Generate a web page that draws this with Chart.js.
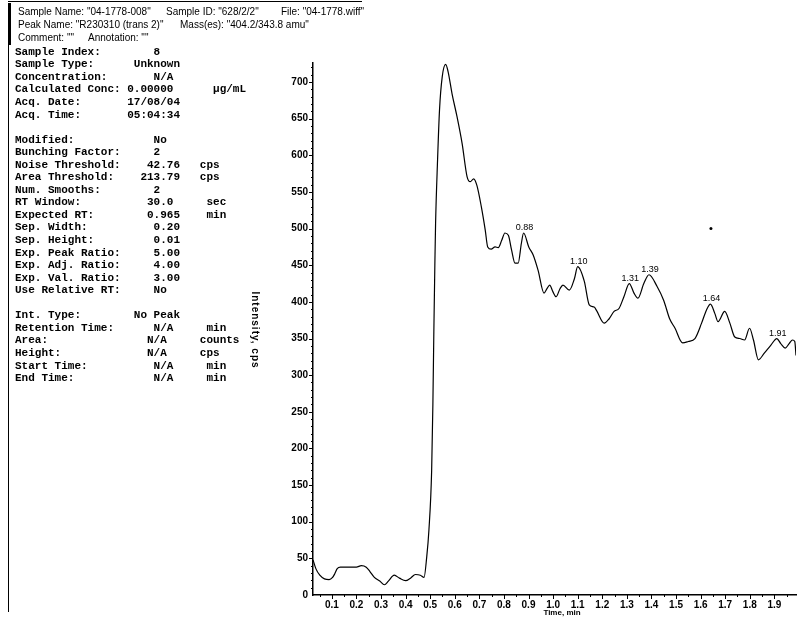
<!DOCTYPE html>
<html>
<head>
<meta charset="utf-8">
<script src="https://cdn.jsdelivr.net/npm/chart.js@4.4.0/dist/chart.umd.min.js"></script>
<style>
  html, body { margin: 0; padding: 0; background: #fff; }
  #wrap { position: relative; width: 800px; height: 617px; }
  canvas { display: block; }
</style>
</head>
<body>
<div id="wrap"><canvas id="xic" width="800" height="617"></canvas></div>
<script>
// Extracted ion chromatogram, 404.2/343.8 amu
const timeMin = [
  0.0234, 0.035, 0.051, 0.070, 0.089, 0.103, 0.112, 0.122, 0.135, 0.173,
  0.200, 0.220, 0.240, 0.255, 0.273, 0.295, 0.314, 0.330, 0.354, 0.375,
  0.400, 0.420, 0.440, 0.460, 0.475, 0.486, 0.495, 0.506, 0.511, 0.515,
  0.519, 0.522, 0.530, 0.538, 0.549, 0.563, 0.573, 0.589, 0.609, 0.630,
  0.650, 0.663, 0.677, 0.690, 0.708, 0.724, 0.734, 0.748, 0.764, 0.777,
  0.791, 0.804, 0.818, 0.831, 0.845, 0.858, 0.871, 0.880, 0.901, 0.919,
  0.939, 0.963, 0.975, 0.986, 0.999, 1.012, 1.028, 1.040, 1.066, 1.087,
  1.100, 1.127, 1.147, 1.167, 1.177, 1.208, 1.228, 1.248, 1.268, 1.288,
  1.310, 1.329, 1.345, 1.369, 1.390, 1.423, 1.450, 1.474, 1.496, 1.527,
  1.550, 1.577, 1.604, 1.624, 1.640, 1.658, 1.671, 1.698, 1.719, 1.739,
  1.759, 1.779, 1.799, 1.815, 1.835, 1.859, 1.886, 1.910, 1.926, 1.944,
  1.960, 1.974, 1.983, 1.988
];
const intensityCps = [
  48, 36, 27, 22, 21, 24, 29, 36, 38, 38,
  38, 40, 38, 32, 24, 19, 14, 19, 27, 23,
  19.5, 23, 28, 27, 24, 52, 89, 170, 260, 361,
  450, 507, 593, 662, 707, 724, 714, 684, 653, 616,
  571, 564, 568, 559, 530, 498, 475, 472, 475, 474,
  484, 494, 491, 471, 453, 453, 480, 494, 475, 464,
  443, 412, 418, 423, 414, 407, 418, 423, 416, 432,
  448, 428, 396, 393, 388, 371, 377, 387, 391, 407,
  425, 412, 405, 425, 437, 421, 402, 377, 364, 344,
  346, 350, 371, 389, 397, 384, 373, 387, 371, 352,
  350, 348, 364, 348, 321, 330, 341, 350, 343, 337,
  343, 348, 346, 327
];

// Labelled peaks (retention time, min / intensity, cps)
const peakTimes = [0.88, 1.10, 1.31, 1.39, 1.64, 1.91];
const peakIntensities = [494, 448, 425, 437, 397, 350];

// Lone marker above the trace
const markerTime = [1.642];
const markerIntensity = [500];

const xAxisRange = [0.0234, 1.988];
const yAxisRange = [0, 726];

const headerLines = [
  ['Sample Name: "04-1778-008"', 'Sample ID: "628/2/2"', 'File: "04-1778.wiff"'],
  ['Peak Name: "R230310 (trans 2)"', 'Mass(es): "404.2/343.8 amu"'],
  ['Comment: ""', 'Annotation: ""']
];

const reportLines = [
  'Sample Index:        8',
  'Sample Type:      Unknown',
  'Concentration:       N/A',
  'Calculated Conc: 0.00000      \u00b5g/mL',
  'Acq. Date:       17/08/04',
  'Acq. Time:       05:04:34',
  '',
  'Modified:            No',
  'Bunching Factor:     2',
  'Noise Threshold:    42.76   cps',
  'Area Threshold:    213.79   cps',
  'Num. Smooths:        2',
  'RT Window:          30.0     sec',
  'Expected RT:        0.965    min',
  'Sep. Width:          0.20',
  'Sep. Height:         0.01',
  'Exp. Peak Ratio:     5.00',
  'Exp. Adj. Ratio:     4.00',
  'Exp. Val. Ratio:     3.00',
  'Use Relative RT:     No',
  '',
  'Int. Type:        No Peak',
  'Retention Time:      N/A     min',
  'Area:               N/A     counts',
  'Height:             N/A     cps',
  'Start Time:          N/A     min',
  'End Time:            N/A     min'
];

const sansFont = '"Liberation Sans", Arial, sans-serif';
const monoFont = '"Liberation Mono", "Courier New", monospace';

const reportDecor = {
  id: 'reportDecor',
  beforeDraw(chart) {
    const ctx = chart.ctx;
    ctx.save();
    ctx.fillStyle = '#fff';
    ctx.fillRect(0, 0, chart.width, chart.height);

    // page frame on the left and top
    ctx.fillStyle = '#000';
    ctx.fillRect(8, 3, 3, 42);
    ctx.fillRect(8, 45, 1, 567);
    ctx.fillRect(8, 1, 354, 1);

    // header block
    ctx.font = '10px ' + sansFont;
    ctx.textBaseline = 'middle';
    ctx.textAlign = 'left';
    const headerX = [[18, 166, 281], [18, 180], [18, 88]];
    const headerY = [12, 25, 38];
    headerLines.forEach((parts, i) => {
      parts.forEach((txt, j) => ctx.fillText(txt, headerX[i][j], headerY[i]));
    });

    // processing parameters
    ctx.font = 'bold 11px ' + monoFont;
    reportLines.forEach((line, i) => {
      if (line) ctx.fillText(line, 15, 52 + i * 12.55);
    });

    // axis titles
    ctx.font = 'bold 8px ' + sansFont;
    ctx.textAlign = 'center';
    ctx.fillText('Time, min', 562, 613);
    ctx.font = 'bold 10px ' + sansFont;
    ctx.letterSpacing = '1px';
    ctx.translate(255, 330);
    ctx.rotate(Math.PI / 2);
    ctx.fillText('Intensity, cps', 0, 0);
    ctx.restore();
  },
  afterDraw(chart) {
    const ctx = chart.ctx;
    const xs = chart.scales.x;
    const ys = chart.scales.y;
    const area = chart.chartArea;
    ctx.save();
    ctx.strokeStyle = '#000';
    ctx.lineWidth = 1;

    // y ticks: major every 50, minor every 10
    for (let v = 10; v <= yAxisRange[1]; v += 10) {
      const py = Math.round(ys.getPixelForValue(v)) + 0.5;
      const len = v % 50 === 0 ? 4 : 2;
      ctx.beginPath();
      ctx.moveTo(area.left - len, py);
      ctx.lineTo(area.left, py);
      ctx.stroke();
    }
    // x ticks: major every 0.1, minor every 0.05
    for (let k = 1; k * 0.05 <= xAxisRange[1]; k++) {
      const v = k * 0.05;
      const px = Math.round(xs.getPixelForValue(v)) + 0.5;
      const len = k % 2 === 0 ? 4 : 2;
      ctx.beginPath();
      ctx.moveTo(px, area.bottom);
      ctx.lineTo(px, area.bottom + len);
      ctx.stroke();
    }

    // peak apex labels
    ctx.fillStyle = '#000';
    ctx.font = '9px ' + sansFont;
    ctx.textAlign = 'center';
    ctx.textBaseline = 'bottom';
    peakTimes.forEach((t, i) => {
      const px = xs.getPixelForValue(t);
      const py = ys.getPixelForValue(peakIntensities[i]);
      ctx.fillText(t.toFixed(2), px + 1, py - 1);
    });
    ctx.restore();
  }
};

const tickFont = { family: sansFont, size: 10, weight: 'bold' };

new Chart(document.getElementById('xic').getContext('2d'), {
  type: 'line',
  data: {
    datasets: [
      {
        data: timeMin.map((t, i) => ({ x: t, y: intensityCps[i] })),
        borderColor: '#000',
        borderWidth: 1.2,
        pointRadius: 0,
        fill: false,
        cubicInterpolationMode: 'monotone'
      },
      {
        data: markerTime.map((t, i) => ({ x: t, y: markerIntensity[i] })),
        showLine: false,
        pointRadius: 1.5,
        pointBackgroundColor: '#000',
        pointBorderWidth: 0
      }
    ]
  },
  options: {
    responsive: false,
    animation: false,
    devicePixelRatio: 1,
    layout: { padding: { left: 260, top: 63, right: 0, bottom: 0 } },
    plugins: { legend: { display: false }, tooltip: { enabled: false } },
    scales: {
      x: {
        type: 'linear',
        min: xAxisRange[0],
        max: xAxisRange[1],
        afterFit(scale) { scale.height = 22; },
        grid: { display: false, drawTicks: false },
        border: { display: true, color: '#000', width: 1.5 },
        ticks: {
          stepSize: 0.1,
          includeBounds: false,
          autoSkip: false,
          maxRotation: 0,
          padding: 4,
          color: '#000',
          font: tickFont,
          callback: v => v.toFixed(1)
        }
      },
      y: {
        type: 'linear',
        min: yAxisRange[0],
        max: yAxisRange[1],
        afterFit(scale) { scale.width = 53; },
        grid: { display: false, drawTicks: false },
        border: { display: true, color: '#000', width: 1.5 },
        ticks: {
          stepSize: 50,
          includeBounds: false,
          padding: 5,
          color: '#000',
          font: tickFont,
          callback: v => String(v)
        }
      }
    }
  },
  plugins: [reportDecor]
});
</script>
</body>
</html>
